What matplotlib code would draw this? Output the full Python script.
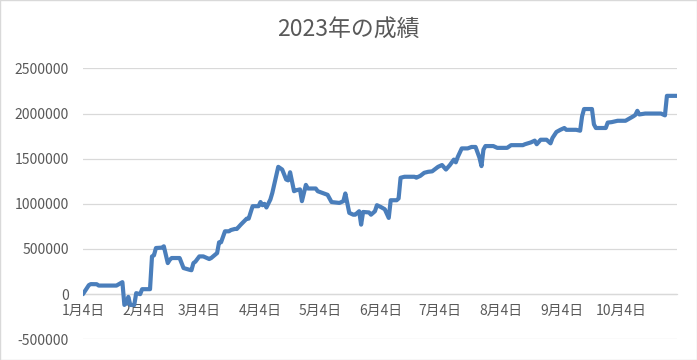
import numpy as np
import pandas as pd
import matplotlib
matplotlib.use("Agg")
import matplotlib.pyplot as plt
import matplotlib.dates as mdates
from matplotlib.ticker import FuncFormatter

plt.rcParams['font.family'] = ['Noto Sans CJK JP', 'DejaVu Sans']

# 日付と累計損益
dates = ["01-04", "01-07", "01-08", "01-11", "01-12", "01-21", "01-24", "01-25",
         "01-26", "01-27", "01-28", "01-30", "01-31", "02-02", "02-03", "02-07",
         "02-08", "02-09", "02-10", "02-13", "02-14", "02-16", "02-17", "02-18",
         "02-22", "02-24", "02-27", "02-28", "03-01", "03-02", "03-04", "03-06",
         "03-09", "03-10", "03-13", "03-14", "03-15", "03-17", "03-19", "03-20",
         "03-22", "03-23", "03-25", "03-28", "03-29", "03-31", "04-03", "04-04",
         "04-05", "04-06", "04-07", "04-09", "04-10", "04-13", "04-15", "04-17",
         "04-18", "04-19", "04-21", "04-22", "04-24", "04-25", "04-27", "04-28",
         "05-02", "05-03", "05-08", "05-10", "05-14", "05-16", "05-17", "05-19",
         "05-21", "05-22", "05-24", "05-25", "05-26", "05-29", "05-30", "06-01",
         "06-02", "06-04", "06-06", "06-08", "06-09", "06-12", "06-13", "06-14",
         "06-16", "06-21", "06-22", "06-24", "06-26", "06-28", "06-30", "07-03",
         "07-05", "07-07", "07-09", "07-11", "07-12", "07-13", "07-15", "07-18",
         "07-20", "07-22", "07-24", "07-25", "07-26", "07-27", "07-31", "08-02",
         "08-07", "08-09", "08-15", "08-16", "08-19", "08-21", "08-22", "08-24",
         "08-27", "08-29", "08-30", "09-01", "09-03", "09-05", "09-06", "09-11",
         "09-13", "09-14", "09-15", "09-19", "09-20", "09-21", "09-26", "09-27",
         "09-29", "10-02", "10-06", "10-10", "10-11", "10-12", "10-13", "10-16",
         "10-24", "10-26", "10-27", "11-01"]
values = [0, 100000, 111000, 110000, 95000, 95000, 133000, -119000,
          -100000, -30000, -120000, -120000, 11000, 0, 55000, 55000,
          418000, 430000, 511000, 515000, 530000, 344000, 380000, 400000,
          400000, 289000, 270000, 265000, 344000, 360000, 418000, 418000,
          389000, 400000, 455000, 574000, 574000, 696000, 696000, 710000,
          722000, 722000, 770000, 836000, 836000, 974000, 974000, 1020000,
          985000, 1000000, 960000, 1048000, 1122000, 1410000, 1380000, 1270000,
          1260000, 1350000, 1140000, 1150000, 1160000, 1030000, 1210000, 1170000,
          1170000, 1140000, 1100000, 1020000, 1010000, 1030000, 1115000, 900000,
          880000, 880000, 918000, 770000, 910000, 905000, 880000, 918000,
          985000, 965000, 940000, 844000, 1040000, 1040000, 1060000, 1289000,
          1300000, 1300000, 1290000, 1310000, 1344000, 1355000, 1360000, 1410000,
          1430000, 1380000, 1430000, 1490000, 1460000, 1520000, 1614000, 1614000,
          1630000, 1630000, 1510000, 1418000, 1600000, 1640000, 1640000, 1620000,
          1620000, 1650000, 1650000, 1660000, 1680000, 1700000, 1660000, 1710000,
          1710000, 1670000, 1730000, 1796000, 1820000, 1840000, 1820000, 1820000,
          1810000, 1970000, 2050000, 2050000, 1880000, 1840000, 1840000, 1900000,
          1905000, 1920000, 1920000, 1970000, 1985000, 2030000, 1990000, 2000000,
          2000000, 1980000, 2196000, 2196000]

tick_dates = ["01-04", "02-04", "03-04", "04-04", "05-04", "06-04",
              "07-04", "08-04", "09-04", "10-04"]
y_ticks = [-500000, 0, 500000, 1000000, 1500000, 2000000, 2500000]

x = pd.to_datetime(["2023-" + d for d in dates])
xt = pd.to_datetime(["2023-" + d for d in tick_dates])

fig = plt.figure(figsize=(6.97, 3.6), dpi=100)
ax = fig.add_axes([0.119, 0.0575, 0.852, 0.7525])

ax.plot(x, values, color='#4a7ebb', lw=3.0, solid_joinstyle='round',
        solid_capstyle='round', zorder=3)

ax.set_xlim(x[0], x[-1])
ax.set_ylim(-500000, 2500000)
ax.set_yticks(y_ticks)
ax.yaxis.set_major_formatter(FuncFormatter(lambda v, p: f"{int(v)}"))
ax.set_xticks(xt)
ax.set_xticklabels([f"{d.month}月{d.day}日" for d in xt], fontsize=10.8)

ax.grid(axis='y', color='#d9d9d9', lw=0.9)
ax.set_axisbelow(True)
for s in ['top', 'right', 'left']:
    ax.spines[s].set_visible(False)
ax.spines['bottom'].set_position(('data', 0))
ax.spines['bottom'].set_color('#d9d9d9')
ax.spines['bottom'].set_linewidth(0.9)

ax.tick_params(axis='both', length=0, labelcolor='#595959')
ax.tick_params(axis='y', pad=10, labelsize=10)
ax.tick_params(axis='x', pad=7)

fig.text(0.5, 0.915, "2023年の成績", ha='center', va='center',
         fontsize=16.5, color='#595959')

fig.patches.append(plt.Rectangle((0, 0), 1, 1, transform=fig.transFigure,
                                 fill=False, edgecolor='#d9d9d9', lw=1))

fig.savefig("out.png", dpi=100)
